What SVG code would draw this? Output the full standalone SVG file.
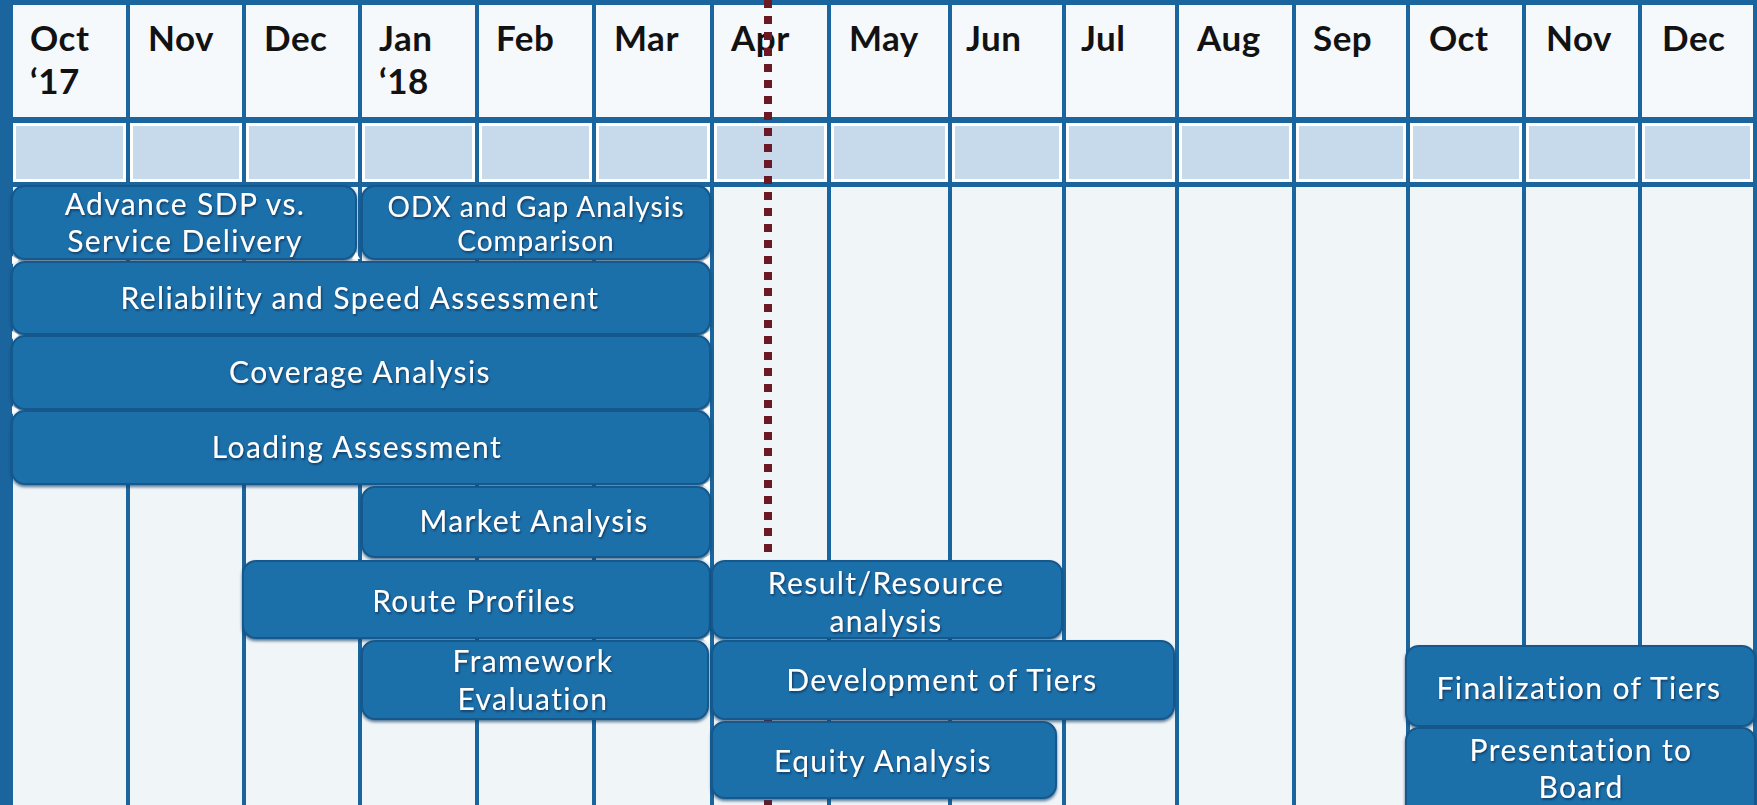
<svg xmlns="http://www.w3.org/2000/svg" width="1757" height="805" viewBox="0 0 1757 805">
  <defs>
    <filter id="ts" x="-10%" y="-30%" width="120%" height="160%">
      <feDropShadow dx="1" dy="1.5" stdDeviation="1.2" flood-color="#0a3254" flood-opacity="0.9"/>
    </filter>
    <filter id="bs" x="-5%" y="-10%" width="110%" height="125%">
      <feDropShadow dx="0" dy="2" stdDeviation="1.5" flood-color="#0d3f66" flood-opacity="0.7"/>
    </filter>
  </defs>
  <style>
    .bg{fill:#1a659e}
    .hcell{fill:#f5f9fc}
    .scell{fill:#c6daeb;stroke:#ffffff;stroke-width:3}
    .bcell{fill:#f0f5f8}
    .month{font-family:Lato,"Open Sans",sans-serif;font-weight:700;font-size:35px;letter-spacing:0.5px;fill:#121212}
    .today{stroke:#6b1a24;stroke-width:8;stroke-dasharray:8 8;fill:none}
    .bar rect{fill:#1c70aa;stroke:#15598c;stroke-width:2;filter:url(#bs)}
    .bar text{font-family:Lato,"Open Sans",sans-serif;font-size:30px;letter-spacing:1.4px;fill:#ffffff;text-anchor:middle;filter:url(#ts)}
    .bar text.small{font-size:28px;letter-spacing:1px}
    .tick{fill:#ffffff}
  </style>

  <!-- frame -->
  <rect class="bg" x="0" y="0" width="1757" height="805"/>

  <!-- month columns: header row, shaded row, body -->
  <g id="grid">
    <g id="header-cells">
      <rect class="hcell" x="13" y="5" width="113" height="112"/>
      <rect class="hcell" x="130" y="5" width="112" height="112"/>
      <rect class="hcell" x="246" y="5" width="112" height="112"/>
      <rect class="hcell" x="362" y="5" width="113" height="112"/>
      <rect class="hcell" x="479" y="5" width="113" height="112"/>
      <rect class="hcell" x="596" y="5" width="114" height="112"/>
      <rect class="hcell" x="714" y="5" width="113" height="112"/>
      <rect class="hcell" x="831" y="5" width="117" height="112"/>
      <rect class="hcell" x="952" y="5" width="110" height="112"/>
      <rect class="hcell" x="1066" y="5" width="109" height="112"/>
      <rect class="hcell" x="1179" y="5" width="113" height="112"/>
      <rect class="hcell" x="1296" y="5" width="110" height="112"/>
      <rect class="hcell" x="1410" y="5" width="112" height="112"/>
      <rect class="hcell" x="1526" y="5" width="112" height="112"/>
      <rect class="hcell" x="1642" y="5" width="111" height="112"/>
    </g>
    <g id="shaded-cells">
      <rect class="scell" x="14.5" y="124.5" width="110" height="56"/>
      <rect class="scell" x="131.5" y="124.5" width="109" height="56"/>
      <rect class="scell" x="247.5" y="124.5" width="109" height="56"/>
      <rect class="scell" x="363.5" y="124.5" width="110" height="56"/>
      <rect class="scell" x="480.5" y="124.5" width="110" height="56"/>
      <rect class="scell" x="597.5" y="124.5" width="111" height="56"/>
      <rect class="scell" x="715.5" y="124.5" width="110" height="56"/>
      <rect class="scell" x="832.5" y="124.5" width="114" height="56"/>
      <rect class="scell" x="953.5" y="124.5" width="107" height="56"/>
      <rect class="scell" x="1067.5" y="124.5" width="106" height="56"/>
      <rect class="scell" x="1180.5" y="124.5" width="110" height="56"/>
      <rect class="scell" x="1297.5" y="124.5" width="107" height="56"/>
      <rect class="scell" x="1411.5" y="124.5" width="109" height="56"/>
      <rect class="scell" x="1527.5" y="124.5" width="109" height="56"/>
      <rect class="scell" x="1643.5" y="124.5" width="108" height="56"/>
    </g>
    <g id="body-cells">
      <rect class="bcell" x="13" y="187" width="113" height="618"/>
      <rect class="bcell" x="130" y="187" width="112" height="618"/>
      <rect class="bcell" x="246" y="187" width="112" height="618"/>
      <rect class="bcell" x="362" y="187" width="113" height="618"/>
      <rect class="bcell" x="479" y="187" width="113" height="618"/>
      <rect class="bcell" x="596" y="187" width="114" height="618"/>
      <rect class="bcell" x="714" y="187" width="113" height="618"/>
      <rect class="bcell" x="831" y="187" width="117" height="618"/>
      <rect class="bcell" x="952" y="187" width="110" height="618"/>
      <rect class="bcell" x="1066" y="187" width="109" height="618"/>
      <rect class="bcell" x="1179" y="187" width="113" height="618"/>
      <rect class="bcell" x="1296" y="187" width="110" height="618"/>
      <rect class="bcell" x="1410" y="187" width="112" height="618"/>
      <rect class="bcell" x="1526" y="187" width="112" height="618"/>
      <rect class="bcell" x="1642" y="187" width="111" height="618"/>
    </g>
    <g id="month-labels" class="month">
      <text x="30" y="51">Oct</text>
      <text x="30" y="94">‘17</text>
      <text x="148" y="51">Nov</text>
      <text x="264" y="51">Dec</text>
      <text x="379" y="51">Jan</text>
      <text x="379" y="94">‘18</text>
      <text x="496" y="51">Feb</text>
      <text x="614" y="51">Mar</text>
      <text x="731" y="51">Apr</text>
      <text x="849" y="51">May</text>
      <text x="966" y="51">Jun</text>
      <text x="1081" y="51">Jul</text>
      <text x="1197" y="51">Aug</text>
      <text x="1313" y="51">Sep</text>
      <text x="1429" y="51">Oct</text>
      <text x="1546" y="51">Nov</text>
      <text x="1662" y="51">Dec</text>
    </g>
  </g>

  <!-- current-date marker -->
  <line id="today" class="today" x1="768" y1="0" x2="768" y2="805"/>

  <!-- task bars -->
  <g id="task-advance-sdp" class="bar">
    <rect x="12" y="186" width="344" height="73" rx="13"/>
    <text x="185" y="215">Advance SDP vs.</text>
    <text x="185" y="252">Service Delivery</text>
  </g>
  <g id="task-odx-gap" class="bar">
    <rect x="362" y="186" width="348" height="73" rx="13"/>
    <text class="small" x="536" y="217">ODX and Gap Analysis</text>
    <text class="small" x="536" y="251">Comparison</text>
  </g>
  <g id="task-reliability" class="bar">
    <rect x="12" y="262" width="698" height="72" rx="13"/>
    <text x="360" y="309">Reliability and Speed Assessment</text>
  </g>
  <g id="task-coverage" class="bar">
    <rect x="12" y="336" width="698" height="73" rx="13"/>
    <text x="360" y="383">Coverage Analysis</text>
  </g>
  <g id="task-loading" class="bar">
    <rect x="12" y="411" width="698" height="73" rx="13"/>
    <text x="357" y="458">Loading Assessment</text>
  </g>
  <g id="task-market" class="bar">
    <rect x="362" y="487" width="348" height="70" rx="13"/>
    <text x="534" y="532">Market Analysis</text>
  </g>
  <g id="task-route" class="bar">
    <rect x="243" y="561" width="467" height="77" rx="13"/>
    <text x="474" y="612">Route Profiles</text>
  </g>
  <g id="task-result" class="bar">
    <rect x="712" y="561" width="350" height="77" rx="13"/>
    <text x="886" y="594">Result/Resource</text>
    <text x="886" y="632">analysis</text>
  </g>
  <g id="task-framework" class="bar">
    <rect x="362" y="641" width="346" height="78" rx="13"/>
    <text x="533" y="672">Framework</text>
    <text x="533" y="710">Evaluation</text>
  </g>
  <g id="task-tiers-dev" class="bar">
    <rect x="712" y="641" width="462" height="78" rx="13"/>
    <text x="942" y="691">Development of Tiers</text>
  </g>
  <g id="task-equity" class="bar">
    <rect x="712" y="722" width="344" height="76" rx="13"/>
    <text x="883" y="772">Equity Analysis</text>
  </g>
  <g id="task-tiers-final" class="bar">
    <rect x="1406" y="646" width="349" height="80" rx="13"/>
    <text x="1579" y="699">Finalization of Tiers</text>
  </g>
  <g id="task-board" class="bar">
    <rect x="1406" y="728" width="349" height="90" rx="13"/>
    <text x="1581" y="761">Presentation to</text>
    <text x="1581" y="798">Board</text>
  </g>

  <!-- small joint marks where bars meet -->
  <g id="connectors">
    <polygon class="tick" points="12,256 19,260 12,264"/>
    <polygon class="tick" points="12,331 19,335 12,339"/>
    <polygon class="tick" points="12,406 19,410 12,414"/>
    <polygon class="tick" points="710,257 703,261 710,265"/>
    <polygon class="tick" points="710,331 703,335 710,339"/>
    <polygon class="tick" points="710,406 703,410 710,414"/>
    <polygon class="tick" points="710,481 703,485 710,489"/>
    <polygon class="tick" points="710,555 703,559 710,563"/>
    <polygon class="tick" points="710,635 703,639 710,643"/>
    <polygon class="tick" points="352,259 356,252 360,259"/>
  </g>
</svg>
